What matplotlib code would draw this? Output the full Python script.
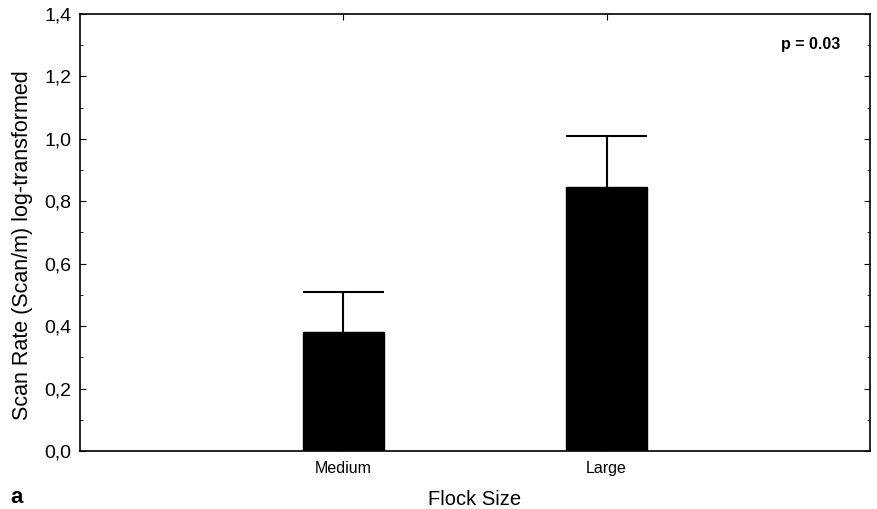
import numpy as np
import matplotlib
matplotlib.use("Agg")
import matplotlib.pyplot as plt
from matplotlib.ticker import MultipleLocator, FuncFormatter

plt.rcParams["font.family"] = ["Liberation Sans", "DejaVu Sans"]

categories = ["Medium", "Large"]
means = [0.382, 0.845]
upper_err = [0.128, 0.163]

fig = plt.figure(figsize=(8.77, 5.09), dpi=100)
ax = fig.add_axes([80 / 877, 1 - 451 / 509, 790 / 877, 437 / 509])

x = np.arange(len(categories))
width = 0.31
means = np.array(means)
tops = means + np.array(upper_err)
ax.bar(x, means, width=width, color="black", edgecolor="black", zorder=2)
# one-sided error bars, cap as wide as the bar
ax.vlines(x, means, tops, color="black", linewidth=1.5, zorder=1)
ax.hlines(tops, x - width / 2, x + width / 2, color="black", linewidth=1.5, zorder=1)

ax.set_xlim(-1.0, 2.0)
ax.set_ylim(0, 1.4)
ax.set_xticks(x)
ax.set_xticklabels(categories, fontsize=11.5)
ax.yaxis.set_major_locator(MultipleLocator(0.2))
ax.yaxis.set_minor_locator(MultipleLocator(0.1))
ax.yaxis.set_major_formatter(FuncFormatter(lambda v, p: f"{v:.1f}".replace(".", ",")))
ax.tick_params(axis="y", which="both", direction="in", right=True, labelsize=14, pad=6)
ax.tick_params(axis="y", which="major", length=4)
ax.tick_params(axis="y", which="minor", length=2)
ax.tick_params(axis="x", direction="in", top=True, length=4, pad=7)
for s in ax.spines.values():
    s.set_linewidth(1.2)

ax.set_ylabel("Scan Rate (Scan/m) log-transformed", fontsize=15.5)
ax.yaxis.set_label_coords(-0.059, 0.47)
ax.set_xlabel("Flock Size", fontsize=14.5, labelpad=10)
ax.text(0.962, 0.93, "p = 0.03", transform=ax.transAxes, ha="right", va="center",
        fontsize=11.5, fontweight="bold")
fig.text(10 / 877, 1 - 503 / 509, "a", fontsize=16, fontweight="bold", va="baseline")

fig.savefig("out.png", dpi=100)
